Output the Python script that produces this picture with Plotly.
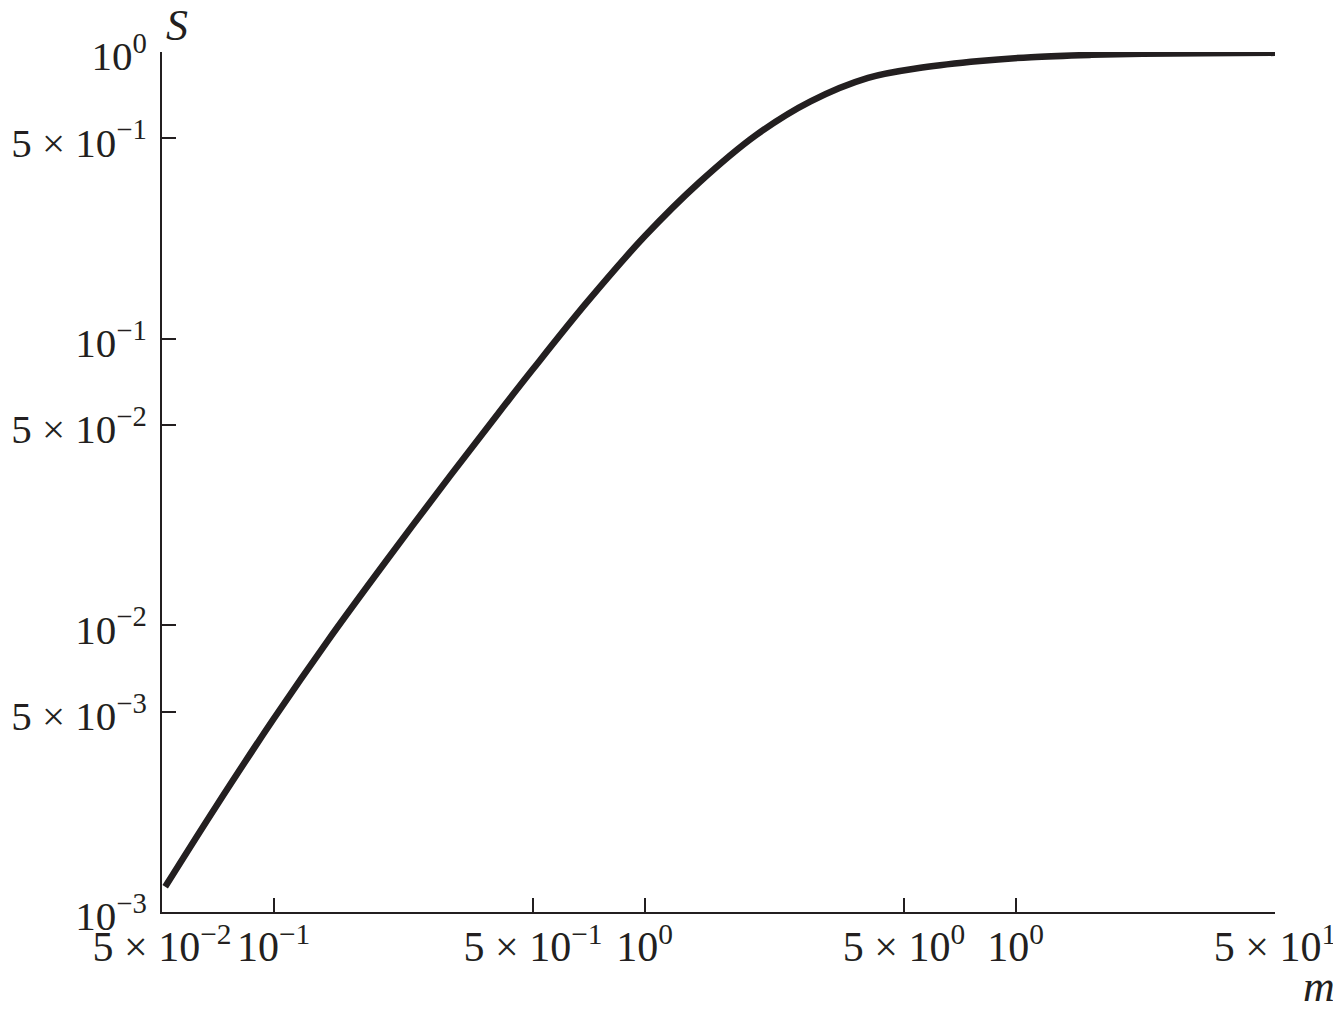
import plotly.graph_objects as go

# Data (log-log curve S vs m)
m_vals = [0.051, 0.07, 0.1, 0.14, 0.2, 0.3, 0.4, 0.5, 0.7, 1.0, 1.4, 2.0, 2.8, 4.0, 5.6,
          8.0, 11, 16, 22, 32, 50]
S_vals = [0.001225, 0.00234, 0.00472, 0.00885, 0.01663, 0.03342, 0.0542, 0.07834, 0.1343,
          0.2275, 0.3499, 0.5140, 0.6730, 0.8128, 0.8831, 0.9311, 0.9594, 0.9772, 0.9863,
          0.9908, 0.9931]

x_tickvals = [0.05, 0.1, 0.5, 1, 5, 10, 50]
x_ticktext = ["5 × 10<sup>−2</sup>", "10<sup>−1</sup>", "5 × 10<sup>−1</sup>", "10<sup>0</sup>",
              "5 × 10<sup>0</sup>", "10<sup>0</sup>", "5 × 10<sup>1</sup>"]
y_tickvals = [0.001, 0.005, 0.01, 0.05, 0.1, 0.5, 1]
y_ticktext = ["10<sup>−3</sup>", "5 × 10<sup>−3</sup>", "10<sup>−2</sup>", "5 × 10<sup>−2</sup>",
              "10<sup>−1</sup>", "5 × 10<sup>−1</sup>", "10<sup>0</sup>"]

ink = "#231f20"
font_family = "Liberation Serif, Times New Roman, serif"

fig = go.Figure()
fig.add_trace(go.Scatter(x=m_vals, y=S_vals, mode="lines",
                         line=dict(color=ink, width=6.5, shape="spline", smoothing=1.0),
                         showlegend=False, hoverinfo="skip"))

axis_common = dict(type="log", showgrid=False, zeroline=False, showline=True,
                   linecolor=ink, linewidth=2, ticks="inside", ticklen=14,
                   tickwidth=2, tickcolor=ink, tickmode="array", automargin=False)

fig.update_layout(
    width=1341, height=1014,
    margin=dict(l=154, r=74, t=44, b=110, pad=0),
    paper_bgcolor="white", plot_bgcolor="white",
    xaxis=dict(range=[-1.30103, 1.69897], tickvals=x_tickvals, ticktext=x_ticktext,
               ticklabelstandoff=-3,
               tickfont=dict(family=font_family, size=42, color=ink), **axis_common),
    yaxis=dict(range=[-3, 0], tickvals=y_tickvals, ticktext=y_ticktext,
               ticklabelstandoff=5, ticklabelshift=4,
               tickfont=dict(family=font_family, size=41, color=ink), **axis_common),
    annotations=[
        dict(text="<i>S</i>", x=0.002, y=1.0, xref="paper", yref="paper",
             xanchor="left", yanchor="bottom", yshift=0, showarrow=False,
             font=dict(family=font_family, size=44, color=ink)),
        dict(text="<i>m</i>", x=1.0, y=0, xref="paper", yref="paper",
             xanchor="left", yanchor="top", xshift=26, yshift=-48, showarrow=False,
             font=dict(family=font_family, size=44, color=ink)),
    ],
)

fig.write_html("out.html")
